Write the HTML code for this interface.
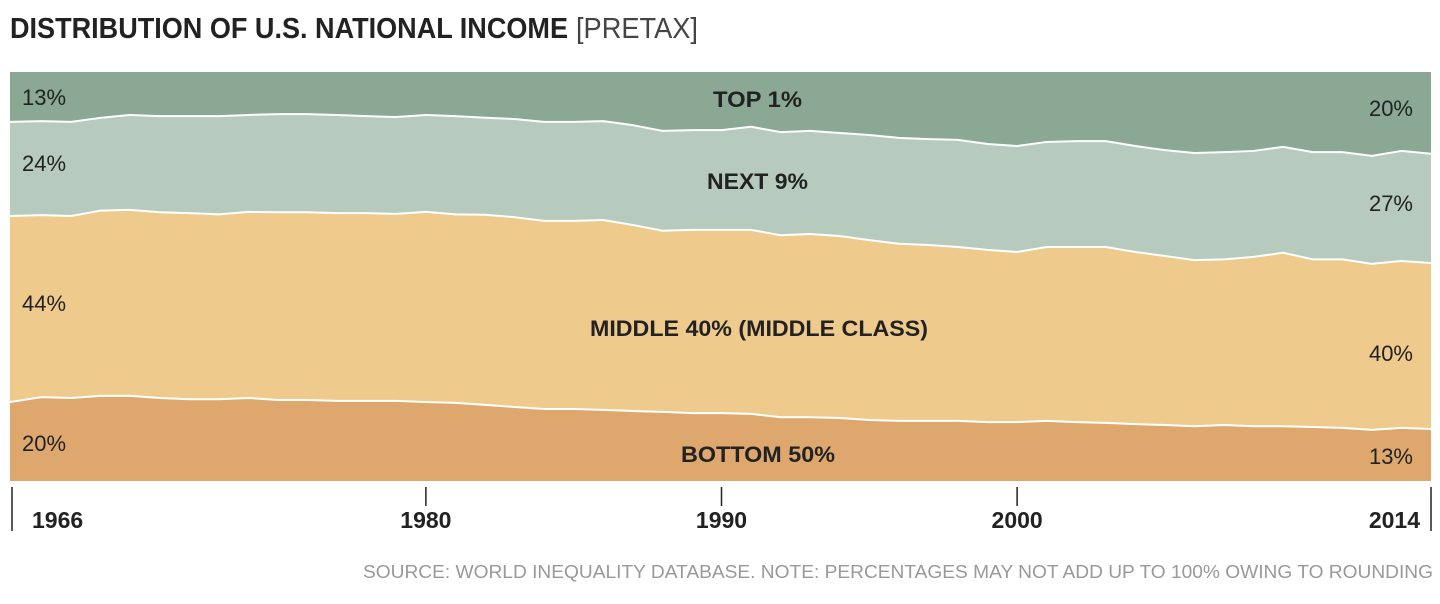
<!DOCTYPE html>
<html><head><meta charset="utf-8"><style>
body{margin:0;background:#fff;width:1440px;height:599px;overflow:hidden;font-family:"Liberation Sans",sans-serif}
</style></head><body>
<svg width="1440" height="599">
<text x="10" y="38" font-size="29" font-weight="bold" fill="#222" textLength="558" lengthAdjust="spacingAndGlyphs">DISTRIBUTION OF U.S. NATIONAL INCOME</text>
<text x="576" y="38" font-size="29" fill="#444" textLength="122" lengthAdjust="spacingAndGlyphs">[PRETAX]</text>
<g id="areas"></g>
<g id="labels" font-size="22" fill="#222">
<text x="713" y="107" font-weight="bold" textLength="89" lengthAdjust="spacingAndGlyphs">TOP 1%</text>
<text x="707" y="189" font-weight="bold" textLength="101" lengthAdjust="spacingAndGlyphs">NEXT 9%</text>
<text x="590" y="336" font-weight="bold" textLength="338" lengthAdjust="spacingAndGlyphs">MIDDLE 40% (MIDDLE CLASS)</text>
<text x="681" y="462" font-weight="bold" textLength="154" lengthAdjust="spacingAndGlyphs">BOTTOM 50%</text>
<text x="22" y="105">13%</text>
<text x="22" y="171">24%</text>
<text x="22" y="311">44%</text>
<text x="22" y="451">20%</text>
<text x="1413" y="116" text-anchor="end">20%</text>
<text x="1413" y="211" text-anchor="end">27%</text>
<text x="1413" y="361" text-anchor="end">40%</text>
<text x="1413" y="464" text-anchor="end">13%</text>
</g>
<g id="axis"></g>
<text x="363" y="578" font-size="18" fill="#999" textLength="1070" lengthAdjust="spacingAndGlyphs">SOURCE: WORLD INEQUALITY DATABASE. NOTE: PERCENTAGES MAY NOT ADD UP TO 100% OWING TO ROUNDING</text>
</svg>
<script>
const years=[];for(let y=1966;y<=2014;y++)years.push(y);
const top1=[12.2,12.0,12.2,11.2,10.5,10.8,10.8,10.8,10.5,10.3,10.3,10.5,10.8,11.0,10.5,10.8,11.2,11.5,12.2,12.2,12.0,13.0,14.4,14.2,14.2,13.4,14.7,14.4,14.9,15.4,16.1,16.4,16.6,17.6,18.1,17.1,16.9,16.9,18.1,19.1,19.8,19.6,19.3,18.3,19.6,19.6,20.5,19.3,20.0];
const next9=[23.0,23.0,23.0,22.7,23.2,23.5,23.7,24.0,23.7,24.0,24.0,24.0,23.7,23.7,23.7,24.0,23.7,24.0,24.2,24.2,24.2,24.4,24.4,24.4,24.4,25.2,25.2,25.2,25.2,25.7,25.9,25.9,26.2,25.9,25.9,25.7,25.9,25.9,25.9,25.9,26.2,26.2,25.9,25.9,26.2,26.2,26.4,26.9,26.7];
const bottom50=[19.3,20.5,20.3,20.8,20.8,20.3,20.0,20.0,20.3,19.8,19.8,19.6,19.6,19.6,19.3,19.1,18.6,18.1,17.6,17.6,17.4,17.1,16.9,16.6,16.6,16.4,15.6,15.6,15.4,14.9,14.7,14.7,14.7,14.4,14.4,14.7,14.4,14.2,13.9,13.7,13.4,13.7,13.4,13.4,13.2,13.0,12.5,13.0,12.7];
const tickYears=[1966,1980,1990,2000,2014];
const NS="http://www.w3.org/2000/svg";
const X0=12,X1=1431,Y0=72,Y1=481;
const xs=y=>X0+(y-1966)/(2014-1966)*(X1-X0);
const ys=p=>Y0+p/100*(Y1-Y0);
const b1=top1, b2=top1.map((v,i)=>v+next9[i]), b3=bottom50.map(v=>100-v);
const ax=i=>i==0?10:xs(years[i]);
function band(upper,lower,color,name){
  let d="M";
  years.forEach((y,i)=>{d+=ax(i)+","+(upper?ys(upper[i]):Y0)+" L";});
  for(let i=years.length-1;i>=0;i--){d+=ax(i)+","+(lower?ys(lower[i]):Y1)+(i?" L":" Z");}
  const p=document.createElementNS(NS,"path");
  p.setAttribute("d",d);p.setAttribute("fill",color);
  
  
  document.getElementById("areas").appendChild(p);
}
band(null,b1,"#8aa893","area-top-1");
band(b1,b2,"#b6cbbd","area-next-9");
band(b2,b3,"#eecb8d","area-middle-40");
band(b3,null,"#dea76e","area-bottom-50");
[b1,b2,b3].forEach((b,k)=>{
  const l=document.createElementNS(NS,"polyline");
  l.setAttribute("points",years.map((y,i)=>ax(i)+","+ys(b[i])).join(" "));
  l.setAttribute("fill","none");l.setAttribute("stroke","#fff");l.setAttribute("stroke-width","2");
  
  
  document.getElementById("areas").appendChild(l);
});
const axis=document.getElementById("axis");
tickYears.forEach((t,i)=>{
  const edge=(i==0||i==tickYears.length-1);
  const x=xs(t);
  const l=document.createElementNS(NS,"line");
  l.setAttribute("x1",x);l.setAttribute("x2",x);l.setAttribute("y1",487);l.setAttribute("y2",edge?531:506);
  l.setAttribute("stroke","#222");l.setAttribute("stroke-width","1.5");
  
  
  axis.appendChild(l);
  const tx=document.createElementNS(NS,"text");
  tx.setAttribute("x",i==0?x+20:(i==tickYears.length-1?x-11:x));
  tx.setAttribute("y",528);
  tx.setAttribute("text-anchor",i==0?"start":(i==tickYears.length-1?"end":"middle"));
  tx.setAttribute("font-size","23");tx.setAttribute("font-weight","bold");tx.setAttribute("fill","#222");
  tx.textContent=t;
  
  
  axis.appendChild(tx);
});
</script>
</body></html>
